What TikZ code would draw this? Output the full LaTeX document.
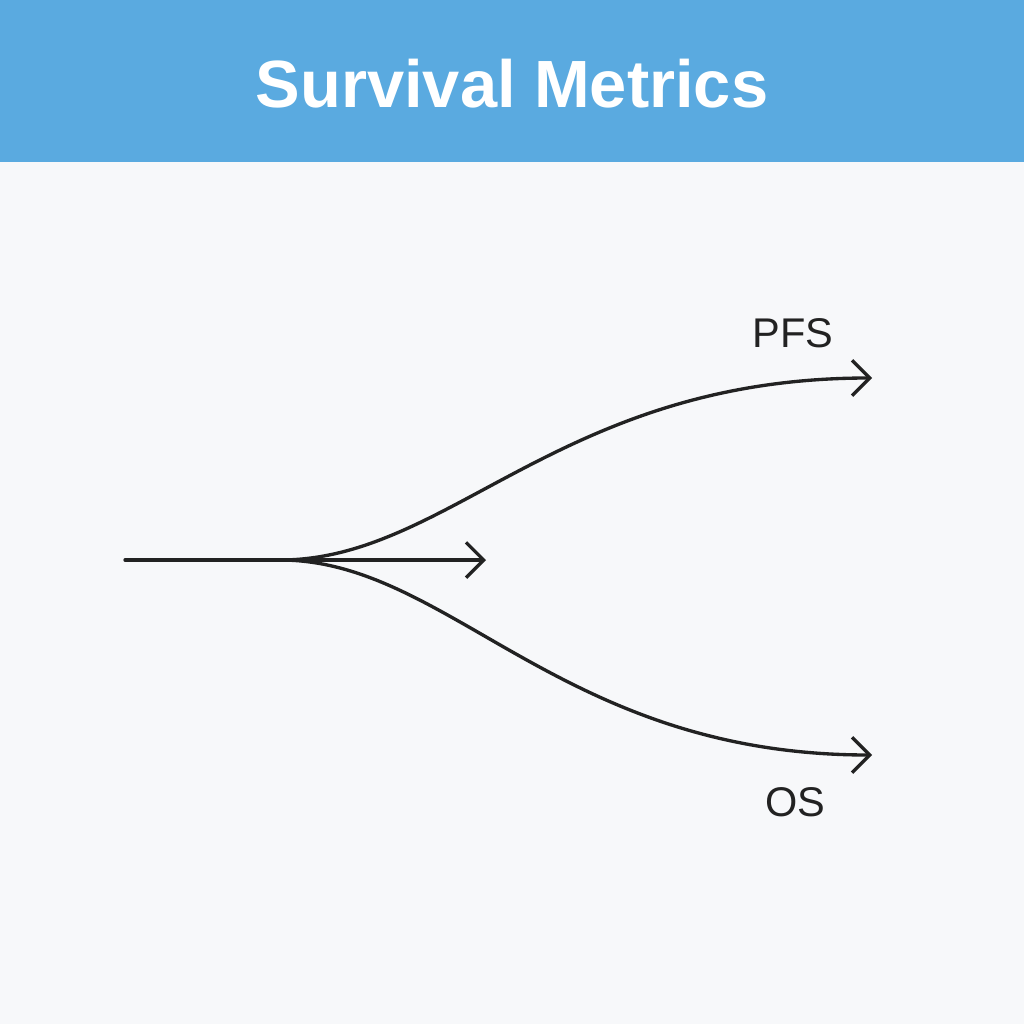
\documentclass[tikz,border=0pt]{standalone}
\usepackage{fontspec}
\setmainfont{Liberation Sans}
\usetikzlibrary{arrows.meta}
\definecolor{hdr}{HTML}{5AAAE0}
\definecolor{bg}{HTML}{F7F8FA}
\definecolor{ink}{HTML}{222222}
\begin{document}
\begin{tikzpicture}[x=0.01cm,y=-0.01cm,
  flow/.style={draw=ink,line width=0.95pt,line cap=round},
  arr/.style={flow,-{Straight Barb[length=5pt,width=10pt,line width=0.95pt]}},
  lbl/.style={text=ink,font=\fontsize{11.8}{14}\selectfont,inner sep=0pt}]
\useasboundingbox (0,0) rectangle (1024,1024);
\fill[bg] (0,0) rectangle (1024,1024);
\fill[hdr] (0,0) rectangle (1024,162);
\node[text=white,font=\fontsize{19}{22}\bfseries\selectfont] (title) at (512,84) {Survival Metrics};
\coordinate (start) at (125,560);
\coordinate (fork) at (280,560);
\coordinate (mid) at (486,560);
\coordinate (pfsend) at (872,378);
\coordinate (osend) at (872,755);
\node[lbl] (pfs) at (793,333) {PFS};
\node[lbl] (os) at (795,802) {OS};
\draw[flow] (start) -- (fork);
\draw[arr] (fork) -- (mid);
\draw[arr] (fork) .. controls (450,560) and (560,378) .. (pfsend);
\draw[arr] (fork) .. controls (450,560) and (560,755) .. (osend);
\end{tikzpicture}
\end{document}
